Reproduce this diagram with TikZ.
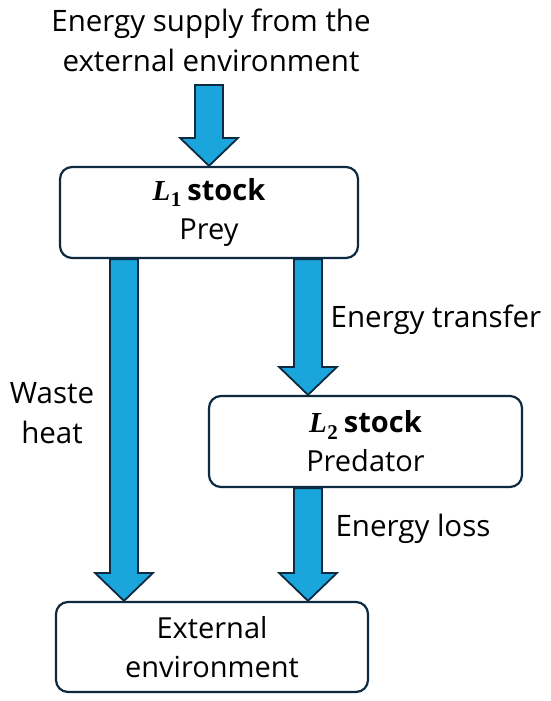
\documentclass[tikz,border=0pt]{standalone}
\usepackage{fontspec}
\setmainfont{Open Sans}
\newfontfamily\serifL{Liberation Serif}
\usetikzlibrary{calc}
\definecolor{flow}{HTML}{1AA6DC}
\definecolor{navy}{HTML}{0E2A40}
\pgfdeclarelayer{bg}
\pgfsetlayers{bg,main}
\newcommand\stockL[1]{{\serifL\bfseries\itshape L}\kern0.5pt\raisebox{-0.22em}{\serifL\bfseries\fontsize{21}{21}\selectfont #1}}
\begin{document}
\begin{tikzpicture}[x=1pt,y=-1pt,
  box/.style={draw=navy,line width=2.2pt,rounded corners=12pt,fill=white,align=center,inner sep=0pt,
    font=\fontsize{29}{39}\selectfont},
  lbl/.style={align=center,inner sep=0pt,font=\fontsize{29.5}{40}\selectfont},
  flowarrow/.style={draw=navy,line width=1.8pt,fill=flow,line join=miter}]
\useasboundingbox (0,0) rectangle (550,701);
\newcommand\blockarr[2]{%
  \draw[flowarrow] ($(#1)+(-14,0)$) -- ($(#2)+(-14,-28)$) -- ($(#2)+(-29,-28)$) -- (#2)
    -- ($(#2)+(29,-28)$) -- ($(#2)+(14,-28)$) -- ($(#1)+(14,0)$) -- cycle;}
% boxes
\node[box,minimum width=298pt,minimum height=91pt] (L1) at (209,212.5)
  {\stockL{1}\kern6pt\textbf{stock}\\Prey};
\node[box,minimum width=313pt,minimum height=91pt] (L2) at (365.5,441.5)
  {\stockL{2}\kern6pt\textbf{stock}\\Predator};
\node[box,minimum width=312pt,minimum height=90pt] (env) at (212,647)
  {External\\environment};
% labels
\node[lbl] (supply) at (211,40) {Energy supply from the\\external environment};
\node[lbl] (transfer) at (436,320) {Energy transfer};
\node[lbl] (waste) at (52,413) {Waste\\heat};
\node[lbl] (loss) at (413,529) {Energy loss};
% arrow columns
\coordinate (xl) at (124,0);
\coordinate (xr) at (308,0);
\coordinate (src) at (209,85);
\coordinate (a0) at (L1.north -| src);
\coordinate (a1) at (L1.south -| xl);
\coordinate (b1) at (env.north -| xl);
\coordinate (a2) at (L1.south -| xr);
\coordinate (b2) at (L2.north -| xr);
\coordinate (a3) at (L2.south -| xr);
\coordinate (b3) at (env.north -| xr);
\begin{pgfonlayer}{bg}
\blockarr{src}{a0}
\blockarr{a1}{b1}
\blockarr{a2}{b2}
\blockarr{a3}{b3}
\end{pgfonlayer}
\end{tikzpicture}
\end{document}
